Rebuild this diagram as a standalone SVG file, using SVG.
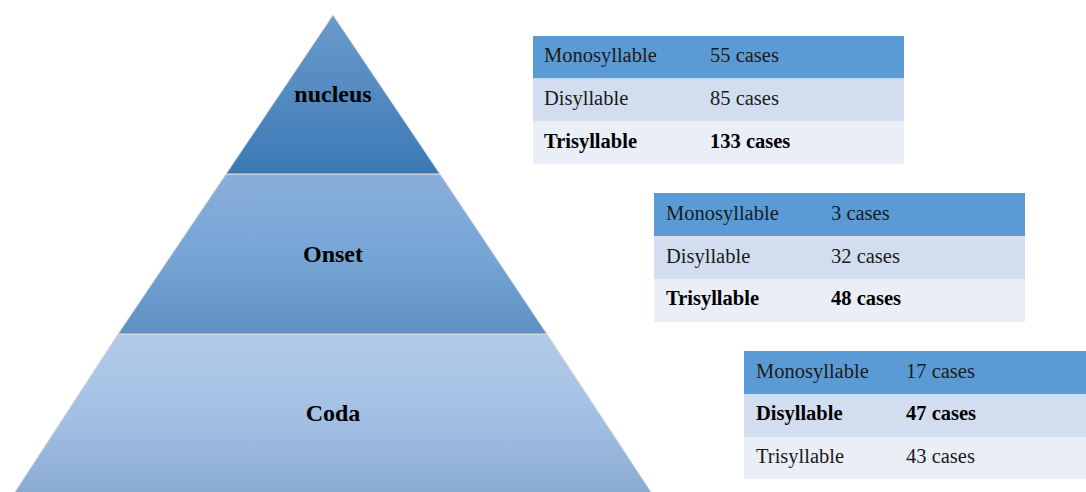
<svg xmlns="http://www.w3.org/2000/svg" width="1086" height="492" viewBox="0 0 1086 492">
<defs>
<linearGradient id="gTop" x1="0" y1="0" x2="0" y2="1">
<stop offset="0" stop-color="#6b9bcc"/>
<stop offset="1" stop-color="#3b79b5"/>
</linearGradient>
<linearGradient id="gMid" x1="0" y1="0" x2="0" y2="1">
<stop offset="0" stop-color="#8aaed8"/>
<stop offset="0.5" stop-color="#76a5d6"/>
<stop offset="1" stop-color="#6090c3"/>
</linearGradient>
<linearGradient id="gBot" x1="0" y1="0" x2="0" y2="1">
<stop offset="0" stop-color="#b1cae7"/>
<stop offset="0.5" stop-color="#a3c0e4"/>
<stop offset="1" stop-color="#88a9d0"/>
</linearGradient>
<style>
.lvl{stroke:#dcdcdc;stroke-width:1;stroke-linejoin:round}
.lbl{font-family:"Liberation Serif","Times New Roman",serif;font-weight:bold;font-size:24px;fill:#000;text-anchor:middle}
.t{font-family:"Liberation Serif","Times New Roman",serif;font-size:20.5px;fill:#1a1a1a}
.b{font-weight:bold;fill:#000}
.h{fill:#5b9bd5}
.r2{fill:#d2deef}
.r3{fill:#e9eef7}
</style>
</defs>
<rect width="1086" height="492" fill="#ffffff"/>
<g id="coda">
<polygon class="lvl" points="118,334 547,334 655,498 11,498" fill="url(#gBot)"/>
<text class="lbl" x="333" y="421">Coda</text>
</g>
<g id="onset">
<polygon class="lvl" points="226,174 440,174 547,334 118,334" fill="url(#gMid)"/>
<text class="lbl" x="333" y="262">Onset</text>
</g>
<g id="nucleus">
<polygon class="lvl" points="333,15 440,174 226,174" fill="url(#gTop)"/>
<text class="lbl" x="333" y="102">nucleus</text>
</g>
<g id="table-nucleus">
<rect class="h" x="533" y="36" width="371" height="42.5"/>
<rect class="r2" x="533" y="78.5" width="371" height="42.5"/>
<rect class="r3" x="533" y="121" width="371" height="43"/>
<text class="t" x="544" y="62">Monosyllable</text>
<text class="t" x="710" y="62">55 cases</text>
<text class="t" x="544" y="105">Disyllable</text>
<text class="t" x="710" y="105">85 cases</text>
<text class="t b" x="544" y="148">Trisyllable</text>
<text class="t b" x="710" y="148">133 cases</text>
</g>
<g id="table-onset">
<rect class="h" x="654" y="193" width="371" height="43"/>
<rect class="r2" x="654" y="236" width="371" height="43"/>
<rect class="r3" x="654" y="279" width="371" height="43"/>
<text class="t" x="666" y="220">Monosyllable</text>
<text class="t" x="831" y="220">3 cases</text>
<text class="t" x="666" y="263">Disyllable</text>
<text class="t" x="831" y="263">32 cases</text>
<text class="t b" x="666" y="305">Trisyllable</text>
<text class="t b" x="831" y="305">48 cases</text>
</g>
<g id="table-coda">
<rect class="h" x="744" y="351" width="342" height="43"/>
<rect class="r2" x="744" y="394" width="342" height="43"/>
<rect class="r3" x="744" y="437" width="342" height="42"/>
<text class="t" x="756" y="378">Monosyllable</text>
<text class="t" x="906" y="378">17 cases</text>
<text class="t b" x="756" y="420">Disyllable</text>
<text class="t b" x="906" y="420">47 cases</text>
<text class="t" x="756" y="463">Trisyllable</text>
<text class="t" x="906" y="463">43 cases</text>
</g>
<g id="connectors"/>
</svg>
